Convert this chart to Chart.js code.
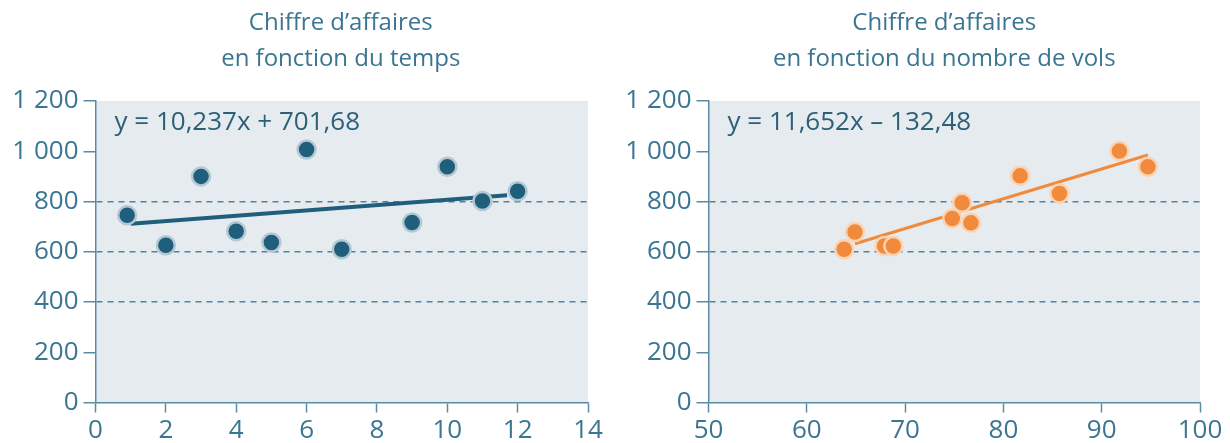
<!DOCTYPE html>
<html>
<head>
<meta charset="utf-8">
<script src="https://cdn.jsdelivr.net/npm/chart.js@4/dist/chart.umd.min.js"></script>
<style>
  html, body { margin: 0; padding: 0; background: #fff; }
  #wrap { position: relative; width: 1230px; height: 443px; }
  canvas { position: absolute; top: 0; }
</style>
</head>
<body>
<div id="wrap">
  <canvas id="chartTemps" width="615" height="443" style="left:0"></canvas>
  <canvas id="chartVols" width="615" height="443" style="left:615px"></canvas>
</div>
<script>
// données
var titreTemps = ["Chiffre d\u2019affaires", "en fonction du temps"];
var titreVols = ["Chiffre d\u2019affaires", "en fonction du nombre de vols"];
var equationTemps = "y = 10,237x + 701,68";
var equationVols = "y = 11,652x \u2013 132,48";

var moisX = [0.9, 2, 3, 4, 5, 6, 7, 9, 10, 11, 12];
var caTemps = [745, 626, 900, 682, 637, 1007, 610, 716, 938, 802, 841];
var tendanceTempsX = [1, 11.7];
var tendanceTempsY = [711, 825];

var volsX = [63.8, 64.9, 67.9, 68.8, 74.8, 75.8, 76.7, 81.7, 85.7, 91.8, 94.7];
var caVols = [610, 679, 623, 623, 732, 795, 715, 902, 832, 1001, 938];
var tendanceVolsX = [64.9, 94.7];
var tendanceVolsY = [632, 985];

var ticksY = [0, 200, 400, 600, 800, 1000, 1200];
var lignesPointillees = [400, 600, 800];

var bleu = "#1f5f7c";
var orange = "#f08a3c";
var texte = "#3a7691";
var axe = "#5b8ba3";
var police = "'Open Sans'";

function paires(xs, ys) {
  return xs.map(function(x, i) { return {x: x, y: ys[i]}; });
}

function formatMilliers(v) {
  var s = String(v);
  if (v >= 1000) s = s.slice(0, s.length - 3) + " " + s.slice(-3);
  return s;
}

var fondPlugin = {
  id: 'fond',
  beforeDraw: function(chart) {
    var a = chart.chartArea, ctx = chart.ctx;
    ctx.save();
    ctx.fillStyle = "#e6ebf0";
    ctx.fillRect(a.left, a.top, a.right - a.left, a.bottom - a.top);
    ctx.restore();
  },
  afterDraw: function(chart) {
    var o = chart.options.plugins.fond;
    var a = chart.chartArea, ctx = chart.ctx;
    ctx.save();
    ctx.fillStyle = texte;
    ctx.textAlign = "center";
    ctx.textBaseline = "middle";
    ctx.font = "24px " + police;
    var cx = (a.left + a.right) / 2 + o.decalageTitre;
    o.titre.forEach(function(l, i) { ctx.fillText(l, cx, 23 + i * 36); });
    ctx.fillStyle = "#2c6079";
    ctx.textAlign = "left";
    ctx.font = "26px " + police;
    ctx.fillText(o.equation, a.left + 19, a.top + 22);
    ctx.restore();
  }
};

function creer(id, cfg) {
  new Chart(document.getElementById(id), {
    type: 'scatter',
    data: {
      datasets: [{
        data: paires(cfg.px, cfg.py),
        backgroundColor: cfg.couleur,
        borderColor: cfg.halo,
        borderWidth: 2.5,
        pointRadius: 9,
        order: 1
      }, {
        type: 'line',
        data: paires(cfg.tx, cfg.ty),
        borderColor: cfg.couleur,
        borderWidth: cfg.epaisseur,
        pointRadius: 0,
        fill: false,
        order: 2
      }]
    },
    options: {
      responsive: false,
      animation: false,
      devicePixelRatio: 1,
      layout: { padding: { top: 101, right: cfg.droite, left: 0, bottom: 0 } },
      plugins: {
        legend: { display: false },
        tooltip: { enabled: false },
        fond: { titre: cfg.titre, equation: cfg.equation, decalageTitre: cfg.decalageTitre }
      },
      scales: {
        x: {
          type: 'linear',
          min: cfg.xmin, max: cfg.xmax,
          afterFit: function(s) { s.height = 40.5; },
          ticks: { stepSize: cfg.pas, color: texte, padding: 2, font: { family: police, size: 26 } },
          grid: { drawOnChartArea: false, tickLength: 10, tickColor: axe, tickWidth: 1.5 },
          border: { color: axe, width: 1.5 }
        },
        y: {
          min: 0, max: 1200,
          afterFit: function(s) { s.width = cfg.gauche; },
          afterBuildTicks: function(s) { s.ticks = ticksY.map(function(v) { return {value: v}; }); },
          ticks: { color: texte, padding: 5, font: { family: police, size: 26 }, callback: formatMilliers },
          grid: {
            tickLength: 12, tickColor: axe, tickWidth: 1.5, lineWidth: 1.5,
            color: function(c) { return lignesPointillees.indexOf(c.tick && c.tick.value) >= 0 ? "#4f83a0" : "rgba(0,0,0,0)"; }
          },
          border: { color: axe, width: 1.5, dash: [6, 5] }
        }
      }
    },
    plugins: [fondPlugin]
  });
}

creer('chartTemps', {
  px: moisX, py: caTemps, tx: tendanceTempsX, ty: tendanceTempsY,
  couleur: bleu, halo: "#b4c8d4", epaisseur: 4,
  xmin: 0, xmax: 14, pas: 2, gauche: 95.5, droite: 27,
  titre: titreTemps, equation: equationTemps, decalageTitre: -1
});

creer('chartVols', {
  px: volsX, py: caVols, tx: tendanceVolsX, ty: tendanceVolsY,
  couleur: orange, halo: "#fbd3b2", epaisseur: 3,
  xmin: 50, xmax: 100, pas: 10, gauche: 93.5, droite: 30,
  titre: titreVols, equation: equationVols, decalageTitre: -10
});
</script>
</body>
</html>
